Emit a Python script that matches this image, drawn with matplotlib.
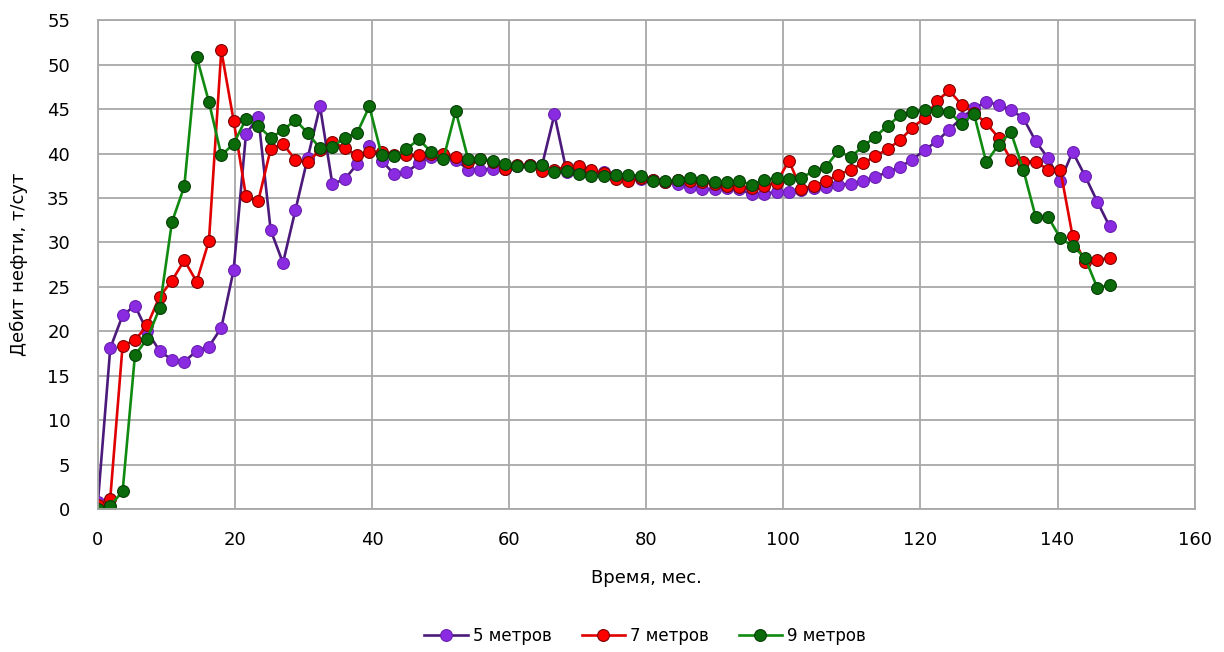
import numpy as np
import matplotlib
matplotlib.use("Agg")
import matplotlib.pyplot as plt

plt.rcParams['font.family'] = ['Liberation Sans Narrow', 'DejaVu Sans']

# Oil rate, t/day, sampled every 1.8 months
rate_5m = [0.8, 18.1, 21.8, 22.9, 20.0, 17.8, 16.8, 16.6, 17.8, 18.3,
           20.4, 26.9, 42.2, 44.1, 31.4, 27.7, 33.6, 39.5, 45.3, 36.6,
           37.1, 38.8, 40.9, 39.2, 37.7, 37.9, 38.9, 39.6, 39.8, 39.3,
           38.2, 38.2, 38.3, 38.3, 38.6, 38.7, 38.7, 44.4, 37.9, 38.0,
           37.8, 37.9, 37.6, 37.3, 37.1, 37.0, 36.8, 36.6, 36.2, 36.0,
           36.0, 36.1, 36.0, 35.4, 35.5, 35.7, 35.7, 35.9, 36.1, 36.2,
           36.5, 36.6, 36.9, 37.4, 37.9, 38.5, 39.3, 40.4, 41.4, 42.7,
           44.0, 45.1, 45.8, 45.5, 44.9, 44.0, 41.4, 39.5, 36.9, 40.2,
           37.5, 34.6, 31.8]
rate_7m = [0.5, 1.2, 18.4, 19.0, 20.7, 23.9, 25.7, 28.0, 25.6, 30.2,
           51.6, 43.7, 35.2, 34.7, 40.5, 41.1, 39.3, 39.0, 40.4, 41.3,
           40.6, 39.8, 40.2, 40.2, 39.8, 39.8, 39.8, 40.0, 40.0, 39.6,
           39.1, 39.4, 39.1, 38.3, 38.7, 38.7, 38.0, 38.2, 38.5, 38.6,
           38.2, 37.8, 37.1, 36.9, 37.2, 37.0, 36.8, 37.0, 36.9, 36.8,
           36.6, 36.4, 36.2, 36.1, 36.4, 36.7, 39.2, 36.0, 36.4, 36.9,
           37.6, 38.2, 38.9, 39.7, 40.5, 41.5, 42.9, 44.0, 45.9, 47.1,
           45.5, 44.6, 43.4, 41.8, 39.3, 39.1, 39.1, 38.2, 38.2, 30.7,
           27.8, 28.0, 28.3]
rate_9m = [0.0, 0.4, 2.0, 17.3, 19.2, 22.6, 32.3, 36.3, 50.9, 45.8,
           39.8, 41.1, 43.9, 43.1, 41.8, 42.6, 43.8, 42.3, 40.6, 40.7,
           41.8, 42.3, 45.3, 39.8, 39.7, 40.5, 41.6, 40.2, 39.4, 44.8,
           39.4, 39.4, 39.2, 38.8, 38.6, 38.6, 38.7, 37.9, 38.0, 37.7,
           37.5, 37.5, 37.6, 37.6, 37.5, 36.9, 36.9, 37.0, 37.2, 37.0,
           36.8, 36.8, 36.9, 36.5, 37.0, 37.3, 37.1, 37.3, 38.0, 38.5,
           40.3, 39.6, 40.8, 41.9, 43.1, 44.3, 44.7, 44.9, 44.8, 44.7,
           43.3, 44.5, 39.0, 41.0, 42.4, 38.2, 32.9, 32.9, 30.5, 29.6,
           28.3, 24.9, 25.2]
labels = ['5 метров', '7 метров', '9 метров']

step_months = 1.8
months = np.arange(len(rate_5m)) * step_months

fig = plt.figure(figsize=(12.24, 6.52), dpi=100)
ax = fig.add_axes([0.080, 0.219, 0.896, 0.750])

series = [
    (rate_5m, '#4B1A7A', '#8A2BE2', '#6A1FB0'),
    (rate_7m, '#E00000', '#FF0000', '#7A0000'),
    (rate_9m, '#108A10', '#0B6B0B', '#043D04'),
]
for (vals, lc, mfc, mec), lab in zip(series, labels):
    ax.plot(months, vals, color=lc, lw=1.9, marker='o', ms=8.5,
            markerfacecolor=mfc, markeredgecolor=mec, markeredgewidth=0.8,
            label=lab)

ax.set_xlim(0, 160)
ax.set_ylim(0, 55)
ax.set_xticks(np.arange(0, 161, 20))
ax.set_yticks(np.arange(0, 56, 5))
ax.grid(True, color='#A8A8A8', lw=1.3)
ax.set_axisbelow(True)
for s in ax.spines.values():
    s.set_color('#A8A8A8')
    s.set_linewidth(1.3)
ax.tick_params(length=0, labelsize=13)
ax.tick_params(axis='x', pad=16)
ax.tick_params(axis='y', pad=20)

ax.set_xlabel('Время, мес.', fontsize=13, labelpad=14)
ax.set_ylabel('Дебит нефти, т/сут', fontsize=13, labelpad=14)

fig.legend(loc='lower center', bbox_to_anchor=(0.527, -0.012), ncol=3,
           frameon=False, fontsize=12, handlelength=2.6, columnspacing=1.8,
           handletextpad=0.3)

fig.savefig('out.png', dpi=100)
